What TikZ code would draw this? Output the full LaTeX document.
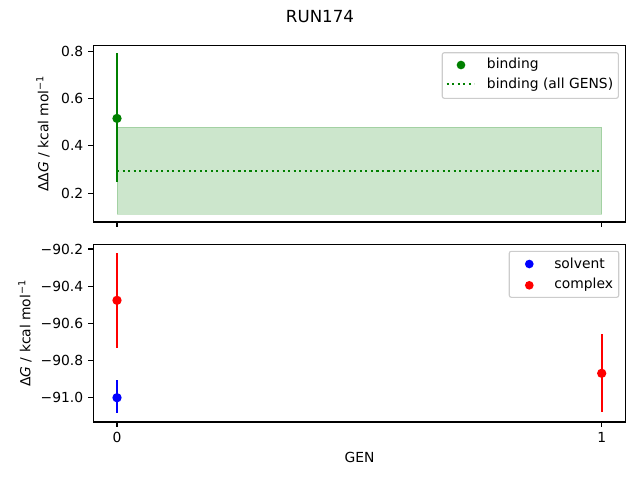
\documentclass[tikz,border=0pt]{standalone}
\usepackage{fontspec}
\setmainfont{DejaVu Sans}
\begin{document}
\begin{tikzpicture}[x=0.75pt,y=-0.75pt,
  spine/.style={line width=0.83pt,black},
  tickmark/.style={line width=0.83pt,black},
  ticklab/.style={font=\fontsize{10.4}{12}\selectfont,inner sep=0pt},
  errbar/.style={line width=1.56pt},
  dotline/.style={line width=1.56pt,dash pattern=on 1.56pt off 2.58pt},
  dotmark/.style={circle,inner sep=0pt,minimum size=7pt},
  legmark/.style={circle,inner sep=0pt,minimum size=6.5pt},
  legbox/.style={draw=black!20,fill=white,fill opacity=0.8,draw opacity=1,rounded corners=1.5pt,line width=0.83pt},
  legtext/.style={font=\fontsize{10.4}{12}\selectfont,anchor=west,inner sep=0pt}]
\useasboundingbox (0,0) rectangle (640,480);
\definecolor{mgreen}{RGB}{0,128,0}
\definecolor{mred}{RGB}{255,0,0}
\definecolor{mblue}{RGB}{0,0,255}
% title
\node[font=\fontsize{12.5}{14}\selectfont] (title) at (320,16.5) {RUN174};
% ===== top axes =====
\fill[mgreen,opacity=0.2] (117,127) rectangle (601.7,214.3);
\draw[mgreen,opacity=0.2,line width=0.75pt] (117,127) rectangle (601.7,214.3);
\draw[dotline,draw=mgreen] (117,171) -- (601.7,171);
\draw[errbar,draw=mgreen] (117,53.3) -- (117,181.7);
\node[dotmark,fill=mgreen] (b0) at (117,118.4) {};
\draw[spine] (93.3,45.3) rectangle (625.7,222);
\foreach \y/\l in {51.1/0.8,98.5/0.6,145.9/0.4,193.3/0.2}{
  \draw[tickmark] (93.3,\y) -- (88.4,\y);
  \node[ticklab,anchor=east] at (83.5,\y) {\l};
}
\foreach \x in {117,601.7}{\draw[tickmark] (\x,222) -- (\x,226.9);}
\node[font=\fontsize{10.4}{12}\selectfont,rotate=90] (ylab1) at (43,133.6) {ΔΔ\textit{G} / kcal mol\textsuperscript{−1}};
% legend top
\draw[legbox] (442.3,52.7) rectangle (618.3,98.3);
\node[legmark,fill=mgreen] (lb) at (461,65) {};
\draw[dotline,draw=mgreen] (446.7,84.3) -- (474.3,84.3);
\node[legtext] (lbt) at (486.7,64.5) {binding};
\node[legtext] (lbat) at (486.7,84.5) {binding (all GENS)};
% ===== bottom axes =====
\draw[errbar,draw=mred] (117,253.3) -- (117,347.7);
\node[dotmark,fill=mred] (c0) at (117,300.3) {};
\draw[errbar,draw=mblue] (117,380.3) -- (117,413.3);
\node[dotmark,fill=mblue] (s0) at (117,397.7) {};
\draw[errbar,draw=mred] (601.7,334.3) -- (601.7,411.7);
\node[dotmark,fill=mred] (c1) at (601.7,373.3) {};
\draw[spine] (93.3,244.3) rectangle (625.7,422);
\foreach \y/\l in {249/−90.2,286.2/−90.4,323.4/−90.6,360.5/−90.8,397.7/−91.0}{
  \draw[tickmark] (93.3,\y) -- (88.4,\y);
  \node[ticklab,anchor=east] at (83.5,\y) {\l};
}
\foreach \x/\l in {117/0,601.7/1}{
  \draw[tickmark] (\x,422) -- (\x,426.9);
  \node[ticklab,anchor=north] at (\x,432) {\l};
}
\node[font=\fontsize{10.4}{12}\selectfont] (xlab) at (359.5,457) {GEN};
\node[font=\fontsize{10.4}{12}\selectfont,rotate=90] (ylab2) at (25,333.2) {Δ\textit{G} / kcal mol\textsuperscript{−1}};
% legend bottom
\draw[legbox] (509.3,251.3) rectangle (618.7,297.3);
\node[legmark,fill=mblue] (ls) at (529.3,264) {};
\node[legmark,fill=mred] (lc) at (529.3,285.3) {};
\node[legtext] (lst) at (554,263.5) {solvent};
\node[legtext] (lct) at (554,284.5) {complex};
\end{tikzpicture}
\end{document}
